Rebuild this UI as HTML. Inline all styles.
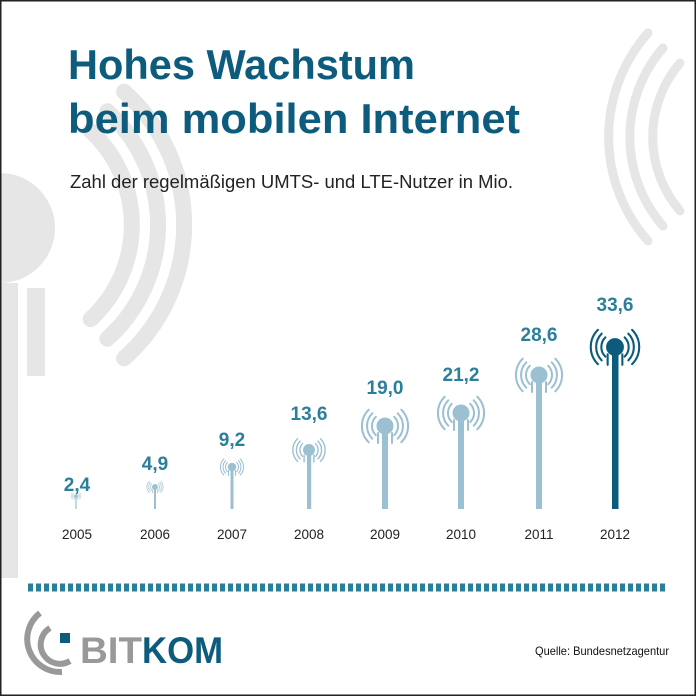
<!DOCTYPE html>
<html><head><meta charset="utf-8"><style>
html,body{margin:0;padding:0;background:#fff}
body{width:696px;height:696px;overflow:hidden;position:relative}
svg{position:absolute;left:0;top:0}
text{font-family:"Liberation Sans",sans-serif}
</style></head><body>
<svg width="696" height="696" viewBox="0 0 696 696" xmlns="http://www.w3.org/2000/svg">
<defs>
<g id="ant">
<circle cx="0" cy="0" r="8"/>
<g fill="none" stroke-width="2" stroke-linecap="round">
<path d="M9.2,-9.2 A13,13 0 0 1 9.2,9.2 M-9.2,-9.2 A13,13 0 0 0 -9.2,9.2"/>
<path d="M12.7,-12.7 A18,18 0 0 1 12.7,12.7 M-12.7,-12.7 A18,18 0 0 0 -12.7,12.7"/>
<path d="M16.3,-16.3 A23,23 0 0 1 16.3,16.3 M-16.3,-16.3 A23,23 0 0 0 -16.3,16.3"/>
<path d="M-7,7 V17 M7,7 V17"/>
</g>
</g>
</defs>
<rect x="0" y="0" width="696" height="696" fill="#fff"/>
<g fill="#e6e6e6">
<circle cx="0" cy="228" r="55"/>
<rect x="27" y="288" width="18" height="88"/>
<rect x="0" y="283" width="18" height="295"/>
</g>
<g fill="none" stroke="#e6e6e6" stroke-width="16" stroke-linecap="round">
<path d="M90.6,130.9 A128,128 0 0 1 90.6,319.1"/>
<path d="M107.4,111.3 A153,153 0 0 1 107.4,338.7"/>
<path d="M124.1,91.7 A178,178 0 0 1 124.1,358.3"/>
</g>
<g fill="none" stroke="#e6e6e6" stroke-width="9" stroke-linecap="round">
<path d="M648,33 A157,157 0 0 0 648,241"/>
<path d="M663,48 A136,136 0 0 0 663,226"/>
<path d="M680,63 A114,114 0 0 0 680,211"/>
</g>
<text x="68" y="79" font-size="42" font-weight="bold" fill="#0d5b7d" textLength="347" lengthAdjust="spacingAndGlyphs">Hohes Wachstum</text>
<text x="68" y="133" font-size="42" font-weight="bold" fill="#0d5b7d" textLength="452" lengthAdjust="spacingAndGlyphs">beim mobilen Internet</text>
<text x="70" y="188" font-size="18.5" fill="#222" textLength="443" lengthAdjust="spacingAndGlyphs">Zahl der regelmäßigen UMTS- und LTE-Nutzer in Mio.</text>
<g fill="#9bc0d2" stroke="#9bc0d2">
<rect x="75.4" y="497" width="1.2" height="12" stroke="none"/>
<use href="#ant" transform="translate(76,496) scale(0.22)"/>
<rect x="154" y="487" width="2" height="22" stroke="none"/>
<use href="#ant" transform="translate(155,487) scale(0.35)"/>
<rect x="230.5" y="468" width="3" height="41" stroke="none"/>
<use href="#ant" transform="translate(232,467) scale(0.5)"/>
<rect x="307" y="450" width="4.2" height="59" stroke="none"/>
<use href="#ant" transform="translate(309,450) scale(0.7)"/>
<rect x="382" y="426" width="6" height="83" stroke="none"/>
<use href="#ant" transform="translate(385,426)"/>
<rect x="458" y="413" width="6" height="96" stroke="none"/>
<use href="#ant" transform="translate(461,413)"/>
<rect x="536" y="375" width="6" height="134" stroke="none"/>
<use href="#ant" transform="translate(539,375)"/>
</g>
<g fill="#0a5b7c" stroke="#0a5b7c">
<rect x="612" y="347" width="6.5" height="162" stroke="none"/>
<use href="#ant" transform="translate(615,347) scale(1.05)"/>
</g>
<g font-size="19" font-weight="bold" fill="#2b7f9b" text-anchor="middle">
<text x="77" y="491">2,4</text>
<text x="155" y="470">4,9</text>
<text x="232" y="446">9,2</text>
<text x="309" y="420">13,6</text>
<text x="385" y="394">19,0</text>
<text x="461" y="381">21,2</text>
<text x="539" y="341">28,6</text>
<text x="615" y="311">33,6</text>
</g>
<g font-size="13.5" fill="#222" text-anchor="middle">
<text x="77" y="539">2005</text>
<text x="155" y="539">2006</text>
<text x="232" y="539">2007</text>
<text x="309" y="539">2008</text>
<text x="385" y="539">2009</text>
<text x="461" y="539">2010</text>
<text x="539" y="539">2011</text>
<text x="615" y="539">2012</text>
</g>
<line x1="28" y1="587.5" x2="668" y2="587.5" stroke="#2b7f9b" stroke-width="8" stroke-dasharray="5 3"/>
<path d="M40,613 A33,33 0 0 0 62,672" fill="none" stroke="#999" stroke-width="6"/>
<path d="M50,628 A18,18 0 0 0 70,661" fill="none" stroke="#999" stroke-width="6"/>
<rect x="60" y="633" width="10" height="10" fill="#0d5b7d"/>
<text x="80" y="663" font-size="37" font-weight="bold" fill="#999" textLength="62" lengthAdjust="spacingAndGlyphs">BIT</text>
<text x="142" y="663" font-size="37" font-weight="bold" fill="#0d5b7d" textLength="81" lengthAdjust="spacingAndGlyphs">KOM</text>
<text x="535" y="655" font-size="12" fill="#111" textLength="134" lengthAdjust="spacingAndGlyphs">Quelle: Bundesnetzagentur</text>
<rect x="0.75" y="0.75" width="694.5" height="694.5" fill="none" stroke="#222" stroke-width="1.5"/>
</svg>
</body></html>
